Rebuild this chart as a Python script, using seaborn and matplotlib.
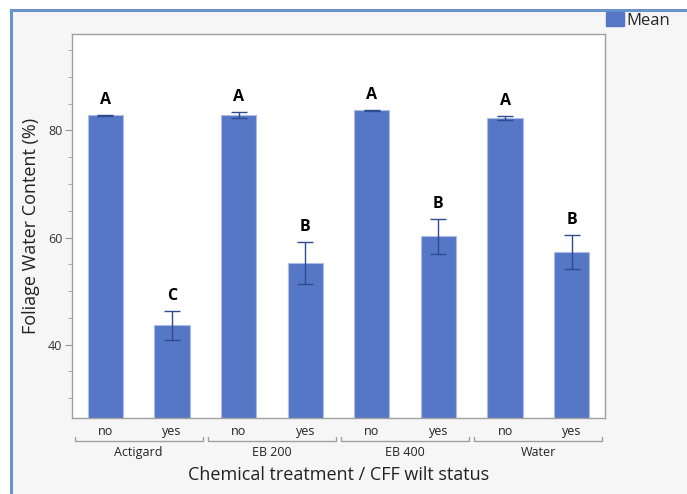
import matplotlib
matplotlib.use("Agg")
import matplotlib.pyplot as plt
import matplotlib.patches as mpatches
from matplotlib.lines import Line2D
import seaborn as sns
import pandas as pd
import numpy as np

treatments = ["Actigard", "Actigard", "EB 200", "EB 200", "EB 400", "EB 400", "Water", "Water"]
wilt = ["no", "yes", "no", "yes", "no", "yes", "no", "yes"]
means = [82.8, 43.6, 82.9, 55.2, 83.8, 60.2, 82.3, 57.3]
errs = [0.15, 2.7, 0.5, 3.9, 0.1, 3.3, 0.4, 3.2]
letters = ["A", "C", "A", "B", "A", "B", "A", "B"]
group_names = ["Actigard", "EB 200", "EB 400", "Water"]

df = pd.DataFrame({
    "cat": [f"{t}|{w}" for t, w in zip(treatments, wilt)],
    "mean": means,
})

sns.set_style("white")
plt.rcParams["font.family"] = ["Open Sans", "DejaVu Sans"]

BAR = "#5677c6"
fig = plt.figure(figsize=(6.87, 4.94), dpi=100)
fig.patch.set_facecolor("white")
# outer panel
panel = mpatches.Rectangle((11 / 687, -0.1), 1.2, 1 - 10 / 494 + 0.1, transform=fig.transFigure,
                           facecolor="#f6f6f6", edgecolor="#6a93cc", linewidth=2.2, zorder=-10)
fig.patches.append(panel)

ax = fig.add_axes([72 / 687, 1 - 418 / 494, (605 - 72) / 687, (418 - 34) / 494])
ax.set_facecolor("white")
sns.barplot(data=df, x="cat", y="mean", color=BAR, width=0.53, ax=ax,
            edgecolor="#aebde6", linewidth=0.8, saturation=1)
xs = ax.get_xticks()
ax.errorbar(xs, means, yerr=errs, fmt="none", ecolor="#2f4b8f", elinewidth=1.0,
            capsize=6, capthick=1.0, zorder=5)
for x, m, e, l in zip(xs, means, errs, letters):
    ax.annotate(l, (x, m + e), xytext=(0, 5), textcoords="offset points",
                ha="center", va="bottom", fontsize=11.5, fontweight="bold", color="black")

ax.set_ylim(26.3, 98)
ax.set_yticks([40, 60, 80])
ax.set_yticks(np.arange(30, 100, 5), minor=True)
ax.tick_params(axis="y", which="major", length=5, color="#999999", labelsize=9, labelcolor="#333333", pad=2, left=True)
ax.tick_params(axis="y", which="minor", length=3, color="#999999", left=True)
ax.set_xticks(xs)
ax.set_xticklabels(wilt)
ax.tick_params(axis="x", length=0, labelsize=9, labelcolor="#222222", pad=5)
for s in ax.spines.values():
    s.set_color("#a0a0a0")
    s.set_linewidth(1.0)
ax.set_xlim(-0.5, len(xs) - 0.5)

ax.set_ylabel("Foliage Water Content (%)", fontsize=13, color="#222222", labelpad=6)
ax.set_xlabel("Chemical treatment / CFF wilt status", fontsize=13, color="#222222", labelpad=20)

# group brackets and labels
trans = ax.get_xaxis_transform()
for gi, g in enumerate(group_names):
    x0 = xs[2 * gi] - 0.5 + 0.04
    x1 = xs[2 * gi + 1] + 0.5 - 0.04
    yb = -0.06
    ax.add_line(Line2D([x0, x0, x1, x1], [yb + 0.01, yb, yb, yb + 0.01], transform=trans,
                       color="#a0a0a0", lw=1.0, clip_on=False))
    ax.text((x0 + x1) / 2, yb - 0.012, g, transform=trans, ha="center", va="top",
            fontsize=9, color="#222222")

# legend
h = mpatches.Patch(facecolor=BAR, edgecolor=BAR, label="Mean")
fig.legend(handles=[h], loc="upper left", bbox_to_anchor=(606 / 687, 1 - 12 / 494),
           frameon=False, fontsize=12, handlelength=1.1, handleheight=0.9,
           handletextpad=0.15, borderaxespad=0, borderpad=0)

fig.savefig("out.png", dpi=100, facecolor=fig.get_facecolor())
